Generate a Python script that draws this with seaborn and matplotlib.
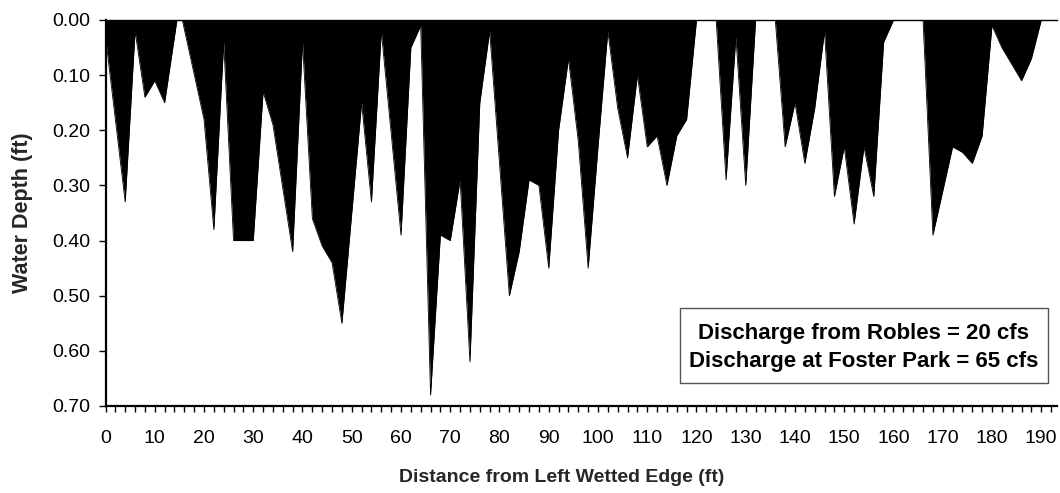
import matplotlib
matplotlib.use("Agg")
import matplotlib.pyplot as plt
import seaborn as sns
import numpy as np
import pandas as pd
from matplotlib.patches import Rectangle
from matplotlib.ticker import MultipleLocator, FormatStrFormatter

# Data
distance_ft = [0, 4, 6, 8, 10, 12, 14.5, 15.6, 20, 22, 24, 26, 28, 30, 32, 34, 38, 40,
               42, 44, 46, 48, 52, 54, 56, 60, 62, 64, 66, 68, 70, 72, 74, 76, 78,
               82, 84, 86, 88, 90, 92, 94, 96, 98, 100, 102, 104, 106, 108, 110,
               112, 114, 116, 118, 120, 122, 124, 126, 128, 130, 132, 134, 136,
               138, 140, 142, 144, 146, 148, 150, 152, 154, 156, 158, 160, 162,
               164, 166, 168, 170, 172, 174, 176, 178, 180, 182, 184, 186, 188,
               190, 192]
depth_ft = [0.03, 0.33, 0.02, 0.14, 0.11, 0.15, 0.00, 0.00, 0.18, 0.38, 0.04, 0.40,
            0.40, 0.40, 0.13, 0.19, 0.42, 0.04, 0.36, 0.41, 0.44, 0.55, 0.15, 0.33,
            0.02, 0.39, 0.05, 0.01, 0.68, 0.39, 0.40, 0.29, 0.62, 0.15, 0.02, 0.50,
            0.42, 0.29, 0.30, 0.45, 0.20, 0.07, 0.22, 0.45, 0.23, 0.02, 0.16, 0.25,
            0.10, 0.23, 0.21, 0.30, 0.21, 0.18, 0.00, 0.00, 0.00, 0.29, 0.03, 0.30,
            0.00, 0.00, 0.00, 0.23, 0.15, 0.26, 0.16, 0.02, 0.32, 0.23, 0.37, 0.23,
            0.32, 0.04, 0.00, 0.00, 0.00, 0.00, 0.39, 0.31, 0.23, 0.24, 0.26, 0.21,
            0.01, 0.05, 0.08, 0.11, 0.07, 0.00, 0.00]

x_ticks = list(range(0, 191, 10))
y_ticks = [0.0, 0.1, 0.2, 0.3, 0.4, 0.5, 0.6, 0.7]
note_lines = ["Discharge from Robles = 20 cfs", "Discharge at Foster Park = 65 cfs"]
x_label = "Distance from Left Wetted Edge (ft)"
y_label = "Water Depth (ft)"

sns.set_theme(style="ticks")
plt.rcParams["font.family"] = ["Liberation Sans", "DejaVu Sans"]

df = pd.DataFrame({"distance": distance_ft, "depth": depth_ft})

W, H = 1060, 493
fig = plt.figure(figsize=(W / 100, H / 100), dpi=100)
L, R, T, B = 105.5, 1057, 20, 406
ax = fig.add_axes([L / W, 1 - B / H, (R - L) / W, (B - T) / H])

ax.fill_between(df["distance"], 0, df["depth"], color="black", lw=0, zorder=2)
sns.lineplot(data=df, x="distance", y="depth", ax=ax, color="black", lw=0.6,
             estimator=None, sort=False, zorder=3)

ax.set_xlim(0, 193.2)
ax.set_ylim(0.70, 0.0)
ax.set_xticks(x_ticks)
ax.xaxis.set_minor_locator(MultipleLocator(2))
ax.set_yticks(y_ticks)
ax.yaxis.set_major_formatter(FormatStrFormatter("%.2f"))
ax.tick_params(axis="x", which="both", direction="out", length=4, width=1,
               color="black", labelsize=14, pad=13, labelcolor="black")
ax.tick_params(axis="y", which="major", direction="out", length=5, width=1,
               color="black", labelsize=14, pad=6, labelcolor="black")
ax.set_xlabel("")
ax.set_ylabel("")

for s in ["left", "bottom"]:
    ax.spines[s].set_linewidth(1.6)
    ax.spines[s].set_color("black")
ax.spines["top"].set_visible(True)
ax.spines["top"].set_linewidth(1.0)
ax.spines["top"].set_color("black")
ax.spines["right"].set_visible(False)

# Note box
bx0, bx1, by0, by1 = 680, 1048, 308, 383
ax.add_patch(Rectangle(((bx0 - L) / (R - L), (B - by1) / (B - T)),
                       (bx1 - bx0) / (R - L), (by1 - by0) / (B - T),
                       transform=ax.transAxes, facecolor="white",
                       edgecolor="#555555", lw=1.0, zorder=5))
cx = ((bx0 + bx1) / 2) / W
fig.text(cx, 1 - 334 / H, note_lines[0], ha="center", va="center",
         fontsize=16, fontweight="bold", color="black", zorder=6)
fig.text(cx, 1 - 362 / H, note_lines[1], ha="center", va="center",
         fontsize=16, fontweight="bold", color="black", zorder=6)

fig.text(562 / W, 1 - 478 / H, x_label, ha="center", va="center",
         fontsize=14, fontweight="bold")
fig.text(23 / W, 1 - 213 / H, y_label, ha="center", va="center",
         rotation=90, fontsize=15.5, fontweight="bold")

fig.savefig("out.png", dpi=100)
